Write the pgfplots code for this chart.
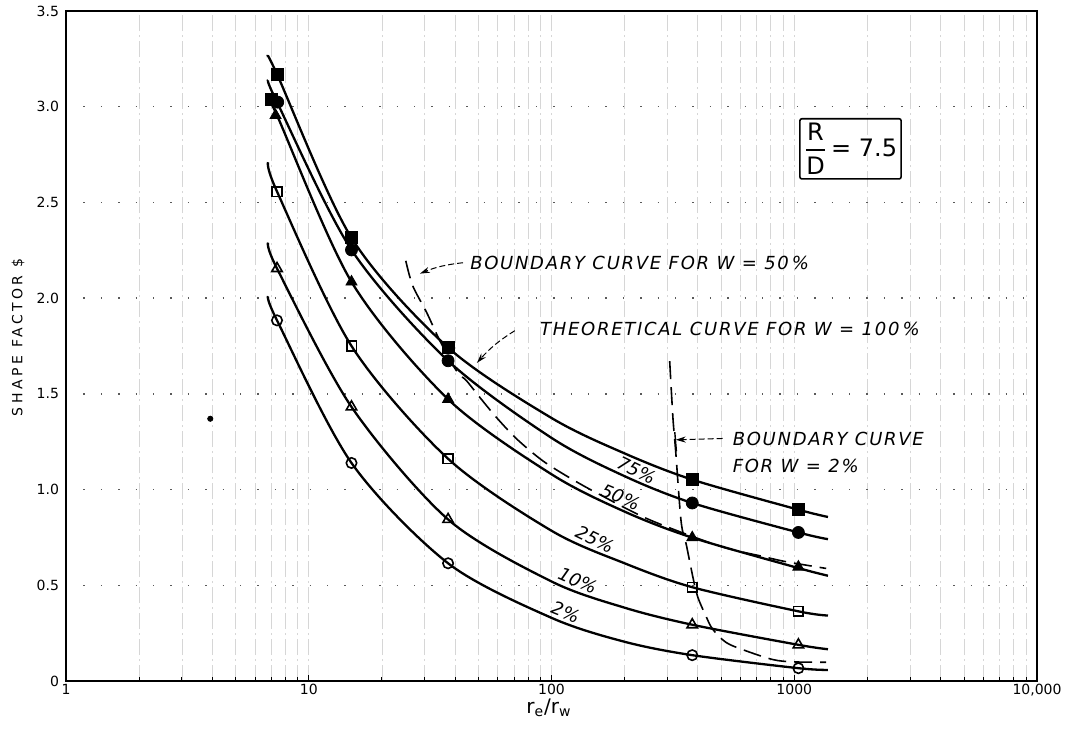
\documentclass[border=0pt]{standalone}
\usepackage{amsmath}
\usepackage{fontspec}
\setmainfont{DejaVu Sans}
\newfontfamily\annot[LetterSpace=9.5]{DejaVu Sans}
\newfontfamily\ylab[LetterSpace=25]{DejaVu Sans}
\usepackage{pgfplots}
\pgfplotsset{compat=1.18}
\usepackage{pgfplotstable}
\usetikzlibrary{arrows.meta}

% curves (x = re/rw, y = shape factor)
\pgfplotstableread{
x y
6.8 3.26
7.4 3.17
15 2.315
37.5 1.742
100 1.374
200 1.189
380 1.052
1040 0.895
1377 0.857
}\cHundred
\pgfplotstableread{
x y
6.8 3.137
7.4 3.024
15 2.252
37.5 1.673
100 1.27
200 1.07
380 0.930
1040 0.776
1377 0.741
}\cSeventyFive
\pgfplotstableread{
x y
6.8 3.04
7.4 2.955
15 2.085
37.5 1.472
100 1.08
200 0.885
380 0.749
1040 0.59
1377 0.55
}\cFifty
\pgfplotstableread{
x y
6.8 2.71
7.4 2.557
15 1.75
37.5 1.161
100 0.785
200 0.615
380 0.49
1040 0.364
1377 0.342
}\cTwentyFive
\pgfplotstableread{
x y
6.8 2.29
7.4 2.155
15 1.432
37.5 0.844
100 0.52
200 0.383
380 0.294
1040 0.189
1377 0.166
}\cTen
\pgfplotstableread{
x y
6.8 2.01
7.4 1.884
15 1.139
37.5 0.615
100 0.33
200 0.205
380 0.135
1040 0.067
1377 0.058
}\cTwo
% dashed boundary curves
\pgfplotstableread{
x y
25.1 2.195
26.8 2.065
30.6 1.925
34.7 1.777
40.6 1.62
44.7 1.568
50.7 1.481
59.4 1.376
71.8 1.265
92.1 1.150
120.8 1.056
158 0.974
253.8 0.842
492.6 0.705
740.5 0.651
926.9 0.623
1354 0.588
}\bFifty
\pgfplotstableread{
x y
306.8 1.671
316.5 1.372
324.8 1.199
342 0.832
359.3 0.711
395.2 0.463
431.5 0.343
461 0.271
525 0.2005
634.6 0.157
816 0.112
984 0.100
1354 0.098
}\bTwo

\begin{document}
\begin{tikzpicture}
\begin{axis}[
  scale only axis,
  width=485.5pt, height=335pt,
  xmode=log,
  xmin=1, xmax=10000,
  ymin=0, ymax=3.5,
  xtick={1,10,100,1000,10000},
  xticklabels={1,10,100,1000,{10,000}},
  ytick={0,0.5,1,1.5,2,2.5,3,3.5},
  yticklabels={0,0.5,1.0,1.5,2.0,2.5,3.0,3.5},
  /pgf/number format/assume math mode=true,
  ticklabel style={font=\fontsize{7}{8}\selectfont},
  xticklabel style={inner sep=1.5pt},
  tick pos=left,
  major tick length=3pt, minor tick length=2pt,
  tick style={black, line width=0.4pt},
  ytick style={draw=none},
  axis line style={line width=0.6pt},
  xmajorgrids=true, xminorgrids=true, ymajorgrids=true,
  x grid style={gray!32, line width=0.3pt, dash pattern=on 8pt off 2pt on 1pt off 2pt},
  y grid style={black!65, line width=0.7pt, dash pattern=on 0.7pt off 8pt},
  xlabel={r\textsubscript{e}/r\textsubscript{w}},
  xlabel style={font=\fontsize{10}{11}\selectfont, at={(axis description cs:0.4974,-0.0403)}, anchor=center},
  ylabel={SHAPE FACTOR \$},
  ylabel style={font=\ylab\fontsize{7}{8}\selectfont, at={(axis description cs:-0.0494,0.513)}, anchor=center},
]
\coordinate (bl) at (rel axis cs:0,0);

% solid curves
\addplot[black, line width=1.15pt, smooth] table[x=x,y=y]{\cHundred};
\addplot[black, line width=1.15pt, smooth] table[x=x,y=y]{\cSeventyFive};
\addplot[black, line width=1.15pt, smooth] table[x=x,y=y]{\cFifty};
\addplot[black, line width=1.15pt, smooth] table[x=x,y=y]{\cTwentyFive};
\addplot[black, line width=1.15pt, smooth] table[x=x,y=y]{\cTen};
\addplot[black, line width=1.15pt, smooth] table[x=x,y=y]{\cTwo};

% boundary curves
\addplot[black, line width=0.8pt, smooth, dash pattern=on 9pt off 4pt] table[x=x,y=y]{\bFifty};
\addplot[black, line width=0.8pt, smooth, dash pattern=on 9pt off 4pt] table[x=x,y=y]{\bTwo};

% measured points
\addplot[only marks, mark=square*, mark size=3pt, black] coordinates {
  (7.4,3.17) (7.05,3.04) (15,2.315) (37.5,1.742) (380,1.052) (1040,0.895)};
\addplot[only marks, mark=*, mark size=3pt, black] coordinates {
  (7.45,3.024) (15,2.252) (37.5,1.673) (380,0.930) (1040,0.776)};
\addplot[only marks, mark=triangle*, mark size=3.2pt, black] coordinates {
  (7.3,2.955) (15,2.085) (37.5,1.472) (380,0.749) (1040,0.596)};
\addplot[only marks, mark=square, mark size=2.4pt, black, mark options={fill=white, line width=0.8pt}] coordinates {
  (7.4,2.557) (15,1.75) (37.5,1.161) (380,0.49) (1040,0.364)};
\addplot[only marks, mark=triangle, mark size=3pt, black, mark options={fill=white, line width=0.8pt}] coordinates {
  (7.4,2.155) (15,1.432) (37.5,0.844) (380,0.294) (1040,0.189)};
\addplot[only marks, mark=o, mark size=2.6pt, black, mark options={fill=white, line width=0.8pt}] coordinates {
  (7.4,1.884) (15,1.139) (37.5,0.615) (380,0.135) (1040,0.067)};
\addplot[only marks, mark=*, mark size=1.3pt, black] coordinates {(3.93,1.37)};

% curve labels
\begin{scope}[every node/.style={font=\itshape\fontsize{9}{10}\selectfont, inner sep=0pt}]
\node[rotate=-26] at (axis cs:224,1.10) {75\%};
\node[rotate=-23] at (axis cs:192.7,0.962) {50\%};
\node[rotate=-26] at (axis cs:151,0.74) {25\%};
\node[rotate=-24] at (axis cs:128.3,0.525) {10\%};
\node[rotate=-22] at (axis cs:114.3,0.36) {2\%};
\end{scope}
\begin{scope}[every node/.style={font=\annot\itshape\fontsize{9}{10}\selectfont, inner sep=0pt}]
\node[anchor=west] at (axis cs:46.1,2.185) {BOUNDARY CURVE FOR W = 50\,\%};
\node[anchor=west] at (axis cs:89.5,1.84) {THEORETICAL CURVE FOR W = 100\,\%};
\node[anchor=west] at (axis cs:556,1.267) {BOUNDARY CURVE};
\node[anchor=west] at (axis cs:556,1.126) {FOR W = 2\%};
\end{scope}

% arrows
\draw[line width=0.5pt, dash pattern=on 3pt off 1.5pt, -{Stealth[length=5pt,width=3pt]}]
  (axis cs:43.2,2.185) to[bend right=8] (axis cs:28.7,2.128);
\draw[line width=0.5pt, dash pattern=on 3pt off 1.5pt, -{Stealth[length=5pt,width=3pt]}]
  (axis cs:70.6,1.83) to[bend right=8] (axis cs:49.3,1.662);
\draw[line width=0.5pt, dash pattern=on 3pt off 1.5pt, -{Stealth[length=5pt,width=3pt]}]
  (axis cs:507,1.267) -- (axis cs:324.8,1.26);
\draw[line width=0.7pt] (axis cs:322,1.30) -- (axis cs:327,1.20);

% R/D box
\node[draw, line width=0.8pt, rounded corners=1pt, inner sep=2pt, font=\fontsize{12}{13}\selectfont]
  at (axis cs:1705,2.78) {$\genfrac{}{}{1pt}{0}{\mbox{R}}{\mbox{D}}$\,= 7.5};
\end{axis}
\pgfresetboundingbox
\path (bl) ++(-33pt,-24.5pt) rectangle ++(535pt,365pt);
\end{tikzpicture}
\end{document}
